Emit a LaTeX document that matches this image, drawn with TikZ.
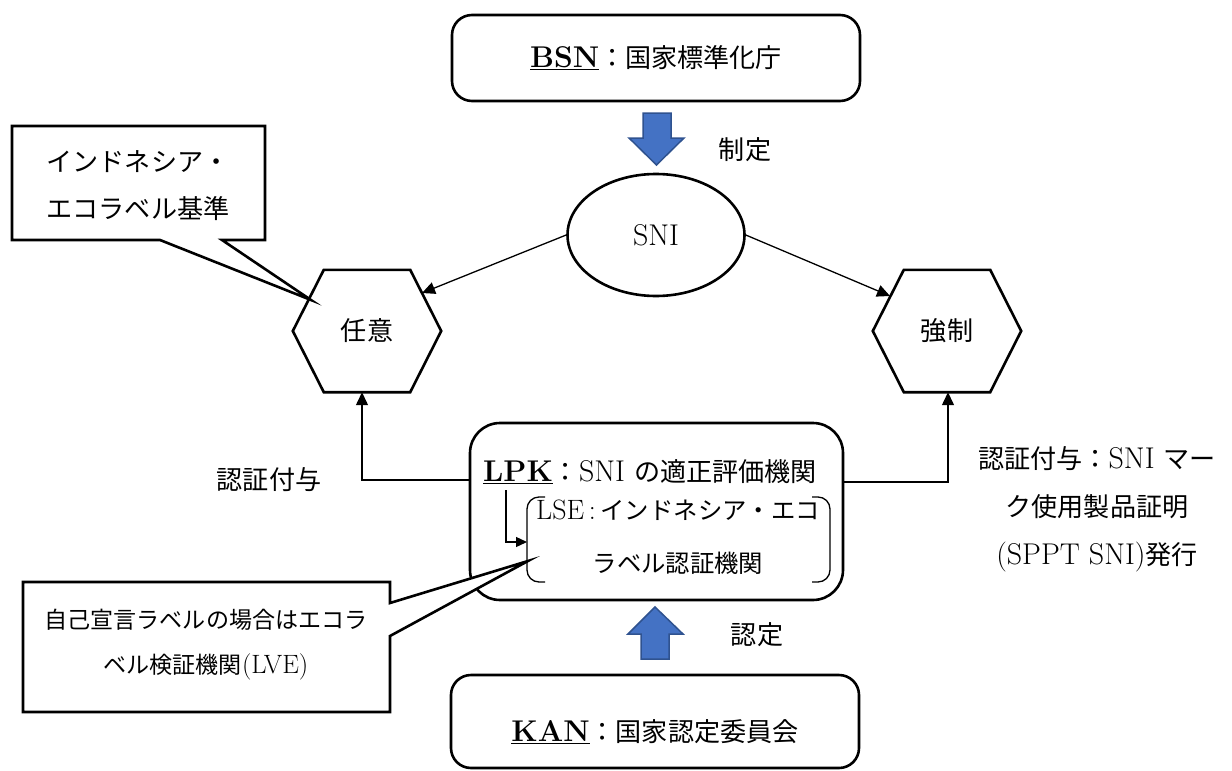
\documentclass[tikz,border=0pt]{standalone}
\usepackage{fontspec}
\newfontfamily\jp{Noto Sans CJK JP}[Scale=0.87]
\usetikzlibrary{arrows.meta,shapes.geometric,calc}
\definecolor{arrowblue}{HTML}{4472C4}
\definecolor{arrowborder}{HTML}{2F528F}
\begin{document}
\begin{tikzpicture}[x=1pt,y=-1pt,
  every node/.style={font=\fontsize{30}{34}\selectfont, inner sep=0pt},
  rbox/.style={draw, line width=2.6pt, rounded corners=20pt},
  hexlabel/.style={minimum width=148pt, minimum height=122pt},
  hexline/.style={line width=2.6pt, line join=miter},
  conn/.style={line width=1.3pt, -{Triangle[length=13pt,width=12pt]}},
  thinline/.style={line width=1.3pt},
  callout/.style={draw, fill=white, line width=2.6pt, line join=miter},
  bluearrow/.style={fill=arrowblue, draw=arrowborder, line width=1.5pt, line join=miter},
]
\useasboundingbox (0,0) rectangle (1232,771);

% top box
\node[rbox, minimum width=408pt, minimum height=86pt] (bsn) at (656,58)
  {\underline{\textbf{BSN}}{\jp ：国家標準化庁}};

% blue down arrow
\draw[bluearrow] (643,113) -- (671,113) -- (671,138) -- (684,138) -- (656.5,165)
  -- (629,138) -- (643,138) -- cycle;
\node (seitei) at (745,150) {\jp 制定};

% SNI ellipse
\node[ellipse, draw, line width=2.6pt, minimum width=177pt, minimum height=122pt] (sni) at (656,235) {SNI};

% hexagons
\node[hexlabel] (nini) at (367,331) {\jp 任意};
\draw[hexline] (nini.west) -- ($(nini.north west)+(31,0)$) -- ($(nini.north east)+(-31,0)$)
  -- (nini.east) -- ($(nini.south east)+(-31,0)$) -- ($(nini.south west)+(31,0)$) -- cycle;
\node[hexlabel] (kyo) at (947,331) {\jp 強制};
\draw[hexline] (kyo.west) -- ($(kyo.north west)+(31,0)$) -- ($(kyo.north east)+(-31,0)$)
  -- (kyo.east) -- ($(kyo.south east)+(-31,0)$) -- ($(kyo.south west)+(31,0)$) -- cycle;

\coordinate (niniIn) at (422,293);
\coordinate (kyoIn) at (890,296);
\draw[conn] (sni.west) -- (niniIn);
\draw[conn] (sni.east) -- (kyoIn);

% callout 1
\coordinate (c1tip) at (311,300);
\draw[callout] (12,126) -- (265,126) -- (265,240) -- (222,240) -- (c1tip) -- (160,240) -- (12,240) -- cycle;
\node[align=center, font=\fontsize{30}{47}\selectfont] (c1) at (138,186)
  {{\jp インドネシア・}\\{\jp エコラベル基準}};

% LPK box
\node[draw, line width=2.6pt, rounded corners=30pt, minimum width=373pt, minimum height=177pt] (lpk) at (656.5,511.5) {};
\node (lpkt) at (650,472) {\underline{\textbf{LPK}}{\jp ：}SNI {\jp の適正評価機関}};

% LSE brackets
\draw[thinline, rounded corners=12pt] (545,497) -- (527,497) -- (527,582) -- (545,582);
\draw[thinline, rounded corners=12pt] (812,497) -- (830,497) -- (830,582) -- (812,582);
\node[align=center, font=\fontsize{28}{53}\selectfont] (lse) at (678,537)
  {LSE\,:\,{\jp インドネシア・エコ}\\{\jp ラベル認証機関}};
\coordinate (saTop) at (506,490);
\coordinate (lseL) at (527,542);
\draw[thinline, -{Triangle[length=11pt,width=10pt]}] (saTop) |- (lseL);

% connectors to hexagons
\coordinate (lpkL) at (470,480);
\coordinate (lpkR) at (843,482);
\draw[conn] (lpkL) -| ([xshift=-5pt]nini.south);
\draw[conn] (lpkR) -| ([xshift=1pt]kyo.south);
\node (ninsho) at (269,480) {\jp 認証付与};
\node[align=center, font=\fontsize{30}{48}\selectfont] (rlabel) at (1097,509)
  {{\jp 認証付与：}SNI {\jp マー}\\{\jp ク使用製品証明}\\(SPPT SNI){\jp 発行}};

% callout 2
\coordinate (c2tip) at (528,561);
\draw[callout] (23,582) -- (390,582) -- (390,603) -- (c2tip) -- (390,636) -- (390,712) -- (23,712) -- cycle;
\node[align=center, font=\fontsize{26.5}{45}\selectfont] (c2) at (206,645)
  {{\jp 自己宣言ラベルの場合はエコラ}\\{\jp ベル検証機関}(LVE)};

% blue up arrow
\draw[bluearrow] (641,659) -- (669,659) -- (669,634) -- (683,634) -- (655,607)
  -- (628,634) -- (641,634) -- cycle;
\node (nintei) at (757,635) {\jp 認定};

% bottom box
\node[rbox, minimum width=408pt, minimum height=93pt] (kan) at (655,721.5) {};
\node (kant) at (655,732) {\underline{\textbf{KAN}}{\jp ：国家認定委員会}};
\end{tikzpicture}
\end{document}
